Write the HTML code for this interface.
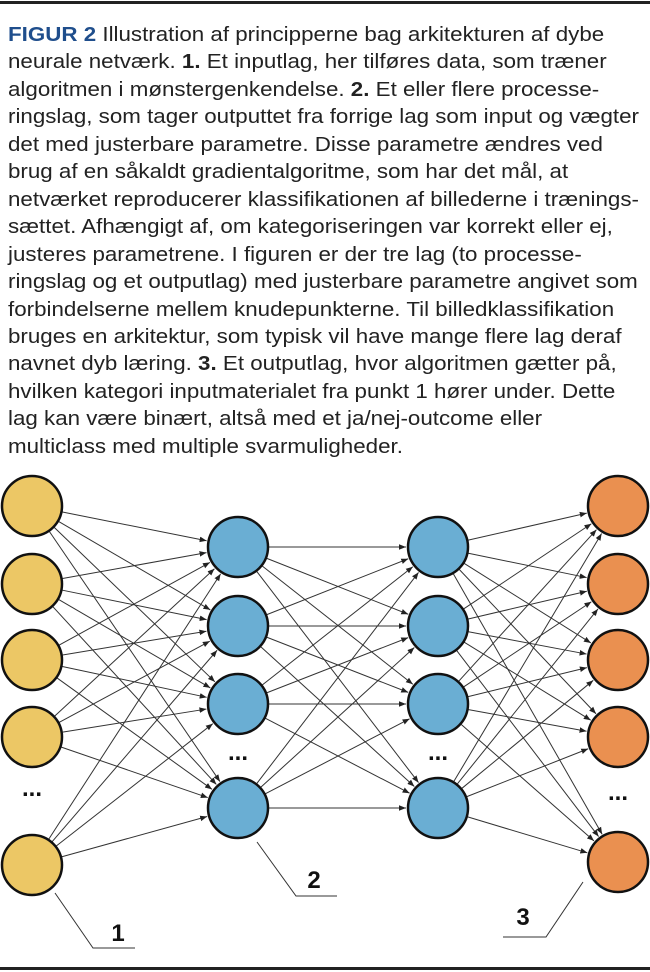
<!DOCTYPE html>
<html><head><meta charset="utf-8"><style>
html,body{margin:0;padding:0;background:#fff;}
body{width:650px;height:972px;position:relative;overflow:hidden;font-family:"Liberation Sans",Arial,sans-serif;}
.rule{position:absolute;left:0;width:650px;height:3px;background:#222;}
.txt{position:absolute;left:8px;top:21px;font-size:20.5px;line-height:27.45px;color:#222;white-space:nowrap;transform:scaleX(1.09);transform-origin:0 0;}
.txt b.h{color:#1f4e8c;}
svg{position:absolute;left:0;top:0;}
</style></head><body>
<div class="rule" style="top:1px"></div>
<div class="rule" style="top:967px"></div>
<div class="txt">
<div><b class="h">FIGUR 2</b> Illustration af principperne bag arkitekturen af dybe</div>
<div>neurale netværk. <b>1.</b> Et inputlag, her tilføres data, som træner</div>
<div>algoritmen i mønstergenkendelse. <b>2.</b> Et eller flere processe-</div>
<div>ringslag, som tager outputtet fra forrige lag som input og vægter</div>
<div>det med justerbare parametre. Disse parametre ændres ved</div>
<div>brug af en såkaldt gradientalgoritme, som har det mål, at</div>
<div>netværket reproducerer klassifikationen af billederne i trænings-</div>
<div>sættet. Afhængigt af, om kategoriseringen var korrekt eller ej,</div>
<div>justeres parametrene. I figuren er der tre lag (to processe-</div>
<div>ringslag og et outputlag) med justerbare parametre angivet som</div>
<div>forbindelserne mellem knudepunkterne. Til billedklassifikation</div>
<div>bruges en arkitektur, som typisk vil have mange flere lag deraf</div>
<div>navnet dyb læring. <b>3.</b> Et outputlag, hvor algoritmen gætter på,</div>
<div>hvilken kategori inputmaterialet fra punkt 1 hører under. Dette</div>
<div>lag kan være binært, altså med et ja/nej-outcome eller</div>
<div>multiclass med multiple svarmuligheder.</div>
</div>
<svg width="650" height="972" id="s">
<defs><marker id="a" viewBox="0 0 10 10" refX="10" refY="5" markerWidth="7" markerHeight="7" orient="auto"><path d="M0,1 L10,5 L0,9 z" fill="#222"/></marker></defs>
<g id="lines" stroke="#333" stroke-width="1" marker-end="url(#a)"></g>
<g id="nodes" stroke="#111" stroke-width="2.5"></g>
<g font-family="Liberation Sans,Arial,sans-serif" font-weight="bold" font-size="24" fill="#111">
<text x="32" y="796" text-anchor="middle">...</text>
<text x="238" y="760" text-anchor="middle">...</text>
<text x="438" y="760" text-anchor="middle">...</text>
<text x="618" y="800" text-anchor="middle">...</text>
<text x="118" y="941" text-anchor="middle">1</text>
<text x="314" y="888" text-anchor="middle">2</text>
<text x="523" y="925" text-anchor="middle">3</text>
</g>
<g stroke="#333" stroke-width="1" fill="none">
<polyline points="55,893 93,948 135,948"/>
<polyline points="257,842 296,896 337,896"/>
<polyline points="583,882 546,937 503,937"/>
</g>
</svg>
<script>
var L=[{x:32,ys:[506,584,660,737,865],c:"#ecc765"},{x:238,ys:[547,626,704,808],c:"#6aaed3"},{x:438,ys:[547,626,704,808],c:"#6aaed3"},{x:618,ys:[506,584,660,737,862],c:"#ea9050"}];
var r=31,ns="http://www.w3.org/2000/svg",lg=document.getElementById("lines"),ng=document.getElementById("nodes");
for(var i=0;i<3;i++){var A=L[i],B=L[i+1];A.ys.forEach(function(y1){B.ys.forEach(function(y2){var dx=B.x-A.x,dy=y2-y1,d=Math.sqrt(dx*dx+dy*dy),ux=dx/d,uy=dy/d;var l=document.createElementNS(ns,"line");l.setAttribute("x1",A.x+ux*r);l.setAttribute("y1",y1+uy*r);l.setAttribute("x2",B.x-ux*(r+1));l.setAttribute("y2",y2-uy*(r+1));lg.appendChild(l);});});}
L.forEach(function(a){a.ys.forEach(function(y){var c=document.createElementNS(ns,"circle");c.setAttribute("cx",a.x);c.setAttribute("cy",y);c.setAttribute("r",r-1);c.setAttribute("fill",a.c);ng.appendChild(c);});});
</script>
</body></html>
